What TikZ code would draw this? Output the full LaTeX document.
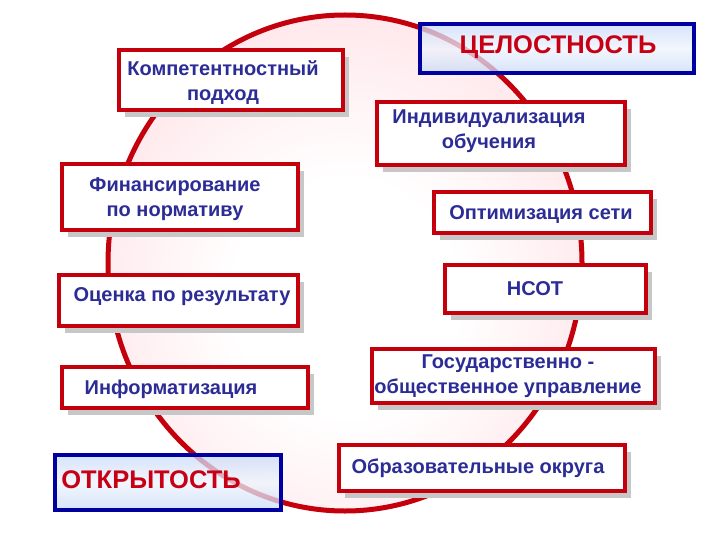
\documentclass[tikz,border=0pt]{standalone}
\usepackage{fontspec}
\setmainfont{Liberation Sans}
\usetikzlibrary{shadows}
\definecolor{boxred}{RGB}{196,0,12}
\definecolor{txtblue}{RGB}{44,44,150}
\definecolor{frameblue}{RGB}{0,0,160}
\definecolor{titred}{RGB}{200,0,20}
\definecolor{ringpink}{RGB}{255,200,208}
\definecolor{skyfill}{RGB}{200,218,248}
\pgfdeclareradialshading{pinkfade}{\pgfpoint{0bp}{-4bp}}{color(0bp)=(white); color(12bp)=(white); color(50bp)=(ringpink); color(100bp)=(ringpink)}
\begin{document}
\begin{tikzpicture}[x=1pt,y=-1pt,
    redbox/.style={draw=boxred, line width=4pt, fill=white, inner sep=0pt,
      drop shadow={shadow xshift=6pt, shadow yshift=-7pt, fill=black!22, opacity=1}},
    bluebox/.style={draw=frameblue, line width=4pt, top color=skyfill, bottom color=skyfill,
      middle color=skyfill!30, fill opacity=0.75, inner sep=0pt},
    txt/.style={text=txtblue, font=\bfseries\fontsize{20}{25}\selectfont, align=center},
    bigtxt/.style={text=titred, font=\bfseries\fontsize{25.5}{30}\selectfont}]
  \useasboundingbox (0,0) rectangle (720,540);
  \shade[shading=pinkfade] (345,263) ellipse [x radius=237pt, y radius=248pt];
  \draw[boxred, line width=5pt] (345,263) ellipse [x radius=237pt, y radius=248pt];

  \node[redbox, minimum width=224pt, minimum height=60pt] (komp) at (231,80) {};
  \node[bluebox, minimum width=274pt, minimum height=49pt] (tsel) at (557,48.5) {};
  \node[redbox, minimum width=248pt, minimum height=63pt] (indiv) at (501,133.5) {};
  \node[redbox, minimum width=217pt, minimum height=41pt] (optim) at (542.5,212.5) {};
  \node[redbox, minimum width=201pt, minimum height=48pt] (nsot) at (545.5,289) {};
  \node[redbox, minimum width=283pt, minimum height=54pt] (gos) at (513.5,376) {};
  \node[redbox, minimum width=286pt, minimum height=46pt] (okrug) at (482,468) {};
  \node[redbox, minimum width=236pt, minimum height=66pt] (fin) at (180,197) {};
  \node[redbox, minimum width=239pt, minimum height=51pt] (otsen) at (178.5,300.5) {};
  \node[redbox, minimum width=246pt, minimum height=41pt] (inform) at (185,387.5) {};
  \node[bluebox, minimum width=226pt, minimum height=55pt] (otkr) at (168,482.5) {};

  \node[txt] (komp-t) at (223,83) {Компетентностный\\подход};
  \node[bigtxt] (tsel-t) at (558,47) {ЦЕЛОСТНОСТЬ};
  \node[txt] (indiv-t) at (489,131) {Индивидуализация\\обучения};
  \node[txt] (optim-t) at (541,215) {Оптимизация сети};
  \node[txt] (nsot-t) at (535,288.5) {НСОТ};
  \node[txt] (gos-t) at (508,376) {Государственно -\\общественное управление};
  \node[txt] (okrug-t) at (478,468) {Образовательные округа};
  \node[txt] (fin-t) at (175,199) {Финансирование\\по нормативу};
  \node[txt] (otsen-t) at (182,297) {Оценка по результату};
  \node[txt] (inform-t) at (171,389) {Информатизация};
  \node[bigtxt] (otkr-t) at (151,480) {ОТКРЫТОСТЬ};
\end{tikzpicture}
\end{document}
